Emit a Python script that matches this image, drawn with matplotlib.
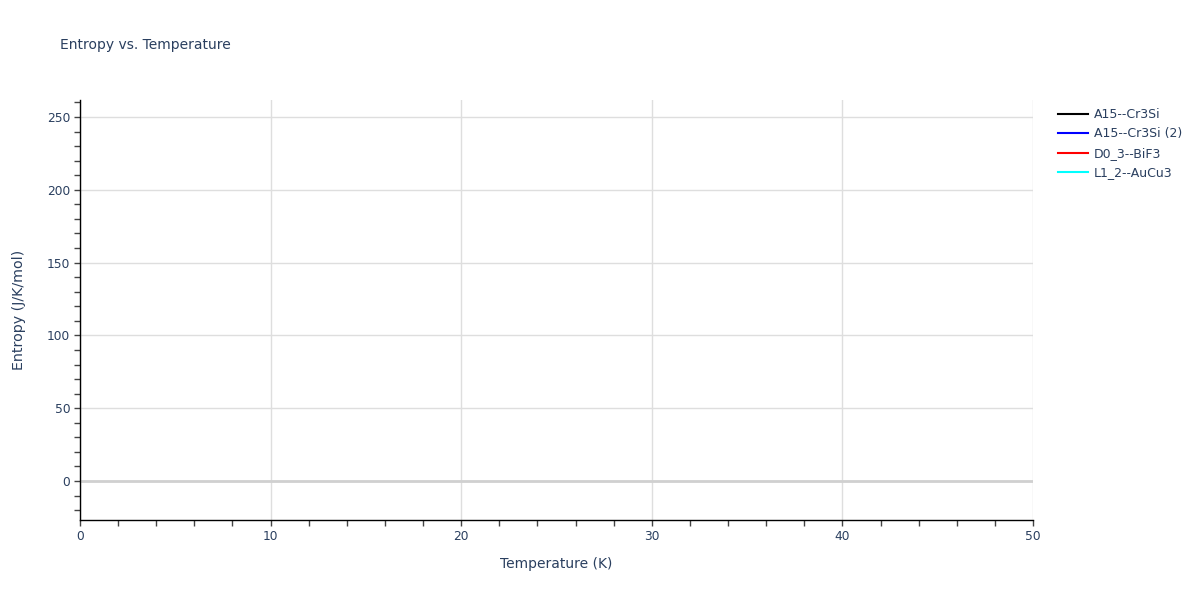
import matplotlib
matplotlib.use('Agg')
import matplotlib.pyplot as plt
from matplotlib.ticker import MultipleLocator

plt.rcParams['font.family'] = ['DejaVu Sans']

# series shown in the legend; no points fall inside the plotted window
names = ['A15--Cr3Si', 'A15--Cr3Si (2)', 'D0_3--BiF3', 'L1_2--AuCu3']
colors = ['black', 'blue', 'red', 'cyan']
temps = [[], [], [], []]
entropy = [[], [], [], []]

text_col = '#2a3f5f'
grid_col = '#dedede'

fig = plt.figure(figsize=(12, 6), dpi=100)
ax = fig.add_axes([80/1200, 1 - 520/600, (1033 - 80)/1200, (520 - 100)/600])

for t, s, name, c in zip(temps, entropy, names, colors):
    ax.plot(t, s, color=c, lw=1.5, label=name)

ax.set_xlim(0, 50)
ax.set_ylim(-26.8, 261.7)

ax.xaxis.set_major_locator(MultipleLocator(10))
ax.xaxis.set_minor_locator(MultipleLocator(2))
ax.yaxis.set_major_locator(MultipleLocator(50))
ax.yaxis.set_minor_locator(MultipleLocator(10))

ax.grid(True, which='major', color=grid_col, lw=1)
ax.axhline(0, color='#d0d0d0', lw=2, zorder=1.5)
ax.set_axisbelow(True)

for side in ['top', 'right']:
    ax.spines[side].set_visible(False)
for side in ['left', 'bottom']:
    ax.spines[side].set_color('black')
    ax.spines[side].set_linewidth(1)

ax.tick_params(which='both', direction='out', length=4, width=1, color='#444444',
               labelsize=8.8, labelcolor=text_col, pad=3)

ax.set_xlabel('Temperature (K)', fontsize=10, color=text_col, labelpad=10)
ax.set_ylabel('Entropy (J/K/mol)', fontsize=10.3, color=text_col, labelpad=15)

fig.text(60/1200, 1 - 45/600, 'Entropy vs. Temperature', fontsize=10,
         color=text_col, va='center', ha='left')

leg = fig.legend(loc='upper left', bbox_to_anchor=(1058/1200, 1 - 108/600),
                 frameon=False, fontsize=9, labelcolor=text_col,
                 handlelength=2.4, handletextpad=0.45, labelspacing=0.52,
                 borderaxespad=0, borderpad=0)

fig.savefig('out.png', dpi=100)
